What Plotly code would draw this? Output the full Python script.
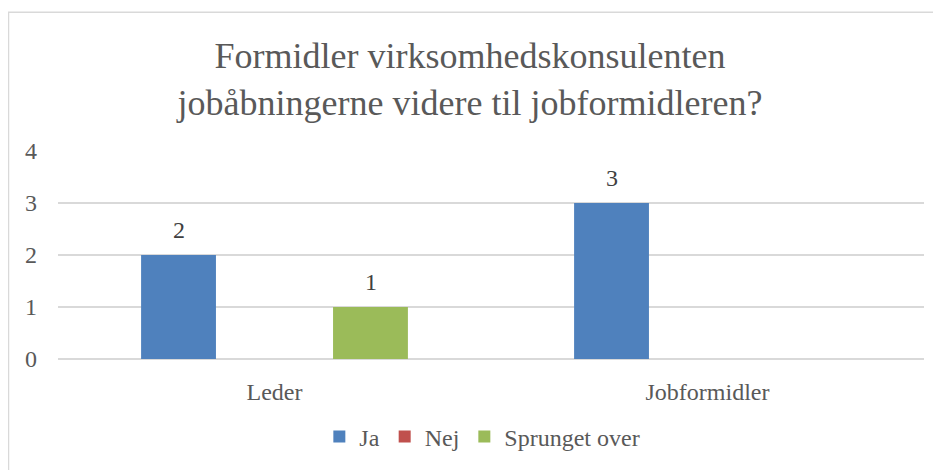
import plotly.graph_objects as go

categories = ["Leder", "Jobformidler"]
series_names = ["Ja", "Nej", "Sprunget over"]
ja = [2, 3]
nej = [0, 0]
sprunget = [1, 0]
values = [ja, nej, sprunget]
colors = ["#4F81BD", "#C0504D", "#9BBB59"]
yticks = [0, 1, 2, 3, 4]

FONT = "Liberation Serif"

fig = go.Figure()
for name, vals, col in zip(series_names, values, colors):
    fig.add_trace(go.Bar(
        name=name, x=categories, y=vals, marker=dict(color=col, line=dict(width=0)),
    ))

# data labels (non-zero values only)
slot_px = 96
n = len(series_names)
for i, vals in enumerate(values):
    for cat, v in zip(categories, vals):
        if v:
            fig.add_annotation(
                x=cat, y=v, xref="x", yref="y", text=str(v), showarrow=False,
                xshift=(i - (n - 1) / 2) * slot_px, yshift=25, yanchor="middle",
                font=dict(family=FONT, size=24, color="#404040"),
            )

# page has an 8px body margin, so the figure is sized to fit the window
L, R, T, B = 50, 17, 143, 110
W, H = 933, 462
pw, ph = W - L - R, H - T - B
fig.add_shape(type="rect", xref="paper", yref="paper",
              x0=(0.5 - L) / pw, x1=(W + 10 - L) / pw,
              y0=(H - B - (H + 10)) / ph, y1=(H - B - 3.5) / ph,
              line=dict(color="#d9d9d9", width=1.5), fillcolor="rgba(0,0,0,0)", layer="below")

fig.update_layout(
    width=W, height=H,
    margin=dict(l=L, r=R, t=T, b=B),
    paper_bgcolor="white", plot_bgcolor="white",
    barmode="group", bargap=0.335, bargroupgap=0.22,
    title=dict(text="Formidler virksomhedskonsulenten<br>jobåbningerne videre til jobformidleren?",
               x=462 / W, xref="container", xanchor="center", y=1 - 60 / H, yanchor="top",
               font=dict(family=FONT, size=36, color="#595959")),
    font=dict(family=FONT, size=24, color="#595959"),
    showlegend=True,
    legend=dict(orientation="h", x=0.49, xanchor="center", y=(H - B - 429) / ph, yanchor="middle",
                font=dict(family=FONT, size=24, color="#595959"), itemwidth=30,
                bgcolor="rgba(0,0,0,0)"),
    xaxis=dict(showgrid=False, showline=False, ticks="", ticklabelstandoff=16,
               tickfont=dict(family=FONT, size=24, color="#595959")),
    yaxis=dict(range=[0, 4], tickvals=yticks, showgrid=True, gridcolor="#d9d9d9", gridwidth=1.5,
               zeroline=True, zerolinecolor="#d9d9d9", zerolinewidth=1.5, showline=False,
               ticklabelstandoff=20,
               tickfont=dict(family=FONT, size=24, color="#595959")),
)

fig.write_html("out.html")
